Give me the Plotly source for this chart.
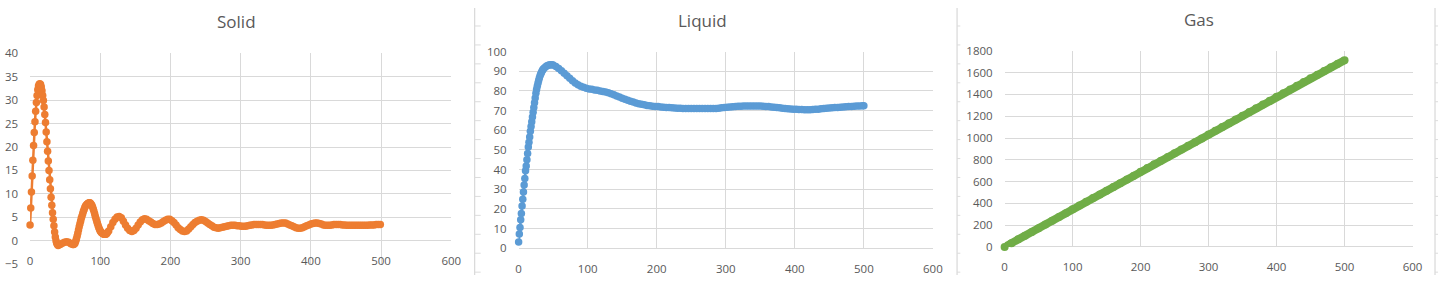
import plotly.graph_objects as go

W, H = 1448, 282

# ---------------- data ----------------
solid_x = [0, 1, 2, 3, 4, 5, 6, 7, 8, 9, 10, 11, 12, 13, 14, 15, 16, 17, 18, 19, 20,
           21, 22, 23, 24, 25, 26, 27, 28, 29, 30, 31, 32, 33, 34, 35, 36, 37, 38, 39,
           40, 43, 46, 49, 52, 55, 58,
           61, 62, 63, 64, 65, 66, 67, 68, 69, 70, 71, 72, 73, 74, 75, 76, 77, 78, 79, 80,
           81, 82, 83, 84, 85, 86, 87, 88, 89, 90, 91, 92, 93, 94, 95, 96, 97, 98, 99, 100,
           101, 102, 103, 104, 105, 106, 107, 108, 109, 110,
           112, 115, 118, 121, 124, 127, 130, 133, 136, 139, 142, 145,
           148, 151, 154, 157, 160, 163, 166, 169, 172, 175, 178, 181, 184, 187, 190, 193,
           196, 199, 202, 205, 208, 211, 214, 217, 220, 223, 226, 229, 232, 235, 238, 241,
           244, 247, 250, 253, 256, 259, 262, 265, 268, 271, 274, 277, 280, 283, 286, 289,
           292, 295, 298, 301, 304, 307, 310, 313, 316, 319, 322, 325, 328, 331, 334, 337,
           340, 343, 346, 349, 352, 355, 358, 361, 364, 367, 370, 373, 376, 379, 382, 385,
           388, 391, 394, 397, 400, 403, 406, 409, 412, 415, 418, 421, 424, 427, 430, 433,
           436, 439, 442, 445, 448, 451, 454, 457, 460, 463, 466, 469, 472, 475, 478, 481,
           484, 487, 490, 493, 496, 499, 500]
solid_y = [3.4, 7.0, 10.4, 13.8, 17.2, 20.3, 23.1, 25.4, 27.6, 29.5, 31.0, 32.2, 33.0, 33.4,
           33.5, 33.3, 32.8, 32.0, 31.0, 29.9, 28.5, 26.9, 25.2, 23.2, 21.1, 19.1, 17.0, 15.0,
           13.0, 11.1, 9.3, 7.6, 6.0, 4.6, 3.2, 1.9, 0.8, 0.0, -0.5, -0.8,
           -1.0, -0.8, -0.5, -0.3, -0.2, -0.3, -0.6,
           -0.8, -0.8, -0.7, -0.5, -0.1, 0.4, 1.0, 1.6, 2.3, 3.0, 3.6, 4.2, 4.8, 5.3, 5.8, 6.3,
           6.7, 7.1, 7.4, 7.6, 7.8, 7.9, 8.0, 8.1, 8.1, 8.0, 7.8, 7.6, 7.2, 6.8, 6.3, 5.8, 5.2,
           4.7, 4.2, 3.7, 3.2, 2.8, 2.4, 2.1, 1.9, 1.7, 1.6, 1.5, 1.4, 1.4, 1.4, 1.4, 1.5, 1.7,
           2.1, 3.0, 3.9, 4.6, 5.1, 5.2, 4.9, 4.2, 3.4, 2.7, 2.2, 2.0,
           2.2, 2.7, 3.4, 4.0, 4.5, 4.7, 4.6, 4.3, 4.0, 3.7, 3.5, 3.5, 3.6,
           3.8, 4.1, 4.4, 4.6, 4.6, 4.3, 3.9, 3.4, 2.8, 2.4, 2.1, 2.0, 2.1, 2.5, 3.0, 3.5, 3.9,
           4.2, 4.4, 4.5, 4.4, 4.1, 3.8, 3.5, 3.2, 2.9, 2.8, 2.7, 2.8, 2.9, 3.0, 3.1, 3.2, 3.3,
           3.3, 3.3, 3.2, 3.2, 3.1, 3.1, 3.1, 3.2, 3.3, 3.4, 3.5, 3.5, 3.5, 3.5, 3.5, 3.4, 3.3,
           3.3, 3.3, 3.4, 3.5, 3.6, 3.7, 3.8, 3.8, 3.8, 3.6, 3.4, 3.2, 3.0, 2.8, 2.7, 2.7, 2.8,
           3.0, 3.2, 3.4, 3.6, 3.7, 3.8, 3.8, 3.7, 3.6, 3.4, 3.3, 3.3, 3.3, 3.4, 3.5, 3.5, 3.5,
           3.5, 3.4, 3.4, 3.3, 3.3, 3.3, 3.3, 3.3, 3.3, 3.3, 3.3, 3.3, 3.3, 3.3, 3.4, 3.4, 3.4,
           3.5, 3.5, 3.5]

liquid_x = [0, 1, 2, 3, 4, 5, 6, 7, 8, 9, 10, 11, 12, 13, 14, 15, 16, 17, 18, 19, 20, 21, 22,
            23, 24, 25, 26, 27, 28, 29, 30, 31, 32, 33, 34, 35, 36, 38, 40, 42, 44, 46, 48,
            50, 54, 58, 62, 66, 70, 74, 78, 82, 86, 90, 94, 98, 102, 106, 110, 114, 118, 122,
            126, 130, 134, 138, 142, 146, 150, 154, 158, 162, 166, 170, 174, 178, 182, 186,
            190, 194, 198, 202, 206, 210, 214, 218, 222, 226, 230, 234, 238, 242, 246, 250,
            254, 258, 262, 266, 270, 274, 278, 282, 286, 290, 294, 298, 302, 306, 310, 314,
            318, 322, 326, 330, 334, 338, 342, 346, 350, 354, 358, 362, 366, 370, 374, 378,
            382, 386, 390, 394, 398, 402, 406, 410, 414, 418, 422, 426, 430, 434, 438, 442,
            446, 450, 454, 458, 462, 466, 470, 474, 478, 482, 486, 490, 494, 498, 500]
liquid_y = [3.2, 7.2, 10.5, 14.5, 17.7, 21.4, 24.9, 28.6, 32.2, 35.4, 39.4, 41.8, 45.0, 48.2,
            51.4, 53.9, 56.6, 59.5, 61.9, 64.3, 66.7, 69.1, 71.5, 74.0, 76.4, 78.8, 80.7, 82.4,
            83.9, 85.3, 86.6, 87.7, 88.6, 89.4, 90.1, 90.7, 91.2, 91.9, 92.5, 92.9, 93.2, 93.3,
            93.3, 93.1, 92.4, 91.4, 90.3, 89.0, 87.7, 86.4, 85.1, 84.0, 83.1, 82.4, 81.8, 81.4,
            81.0, 80.8, 80.5, 80.3, 80.0, 79.7, 79.4, 79.0, 78.5, 78.0, 77.4, 76.9, 76.3, 75.7,
            75.2, 74.7, 74.3, 73.9, 73.5, 73.2, 72.9, 72.6, 72.4, 72.2, 72.1, 72.0, 71.8, 71.7,
            71.6, 71.5, 71.4, 71.3, 71.2, 71.2, 71.1, 71.1, 71.0, 71.0, 71.0, 71.0, 71.0, 71.0,
            71.0, 71.0, 71.0, 71.0, 71.1, 71.2, 71.4, 71.5, 71.7, 71.8, 71.9, 72.1, 72.2, 72.2,
            72.3, 72.3, 72.3, 72.3, 72.3, 72.3, 72.3, 72.2, 72.1, 72.0, 71.8, 71.7, 71.5, 71.4,
            71.2, 71.0, 70.9, 70.8, 70.7, 70.6, 70.5, 70.5, 70.4, 70.4, 70.4, 70.5, 70.6, 70.7,
            70.9, 71.0, 71.2, 71.3, 71.4, 71.5, 71.6, 71.7, 71.8, 71.9, 72.0, 72.1, 72.2, 72.3,
            72.3, 72.4, 72.4]

gas_x = [0, 10, 20, 30, 40, 50, 60, 70, 80, 90, 100, 110, 120, 130, 140, 150, 160, 170, 180,
         190, 200, 210, 220, 230, 240, 250, 260, 270, 280, 290, 300, 310, 320, 330, 340, 350,
         360, 370, 380, 390, 400, 410, 420, 430, 440, 450, 460, 470, 480, 490, 500]
gas_y = [0, 34, 69, 103, 137, 172, 206, 240, 274, 309, 345, 379, 414, 448, 482, 516, 551, 585,
         619, 654, 690, 724, 758, 792, 826, 860, 894, 928, 962, 996, 1032, 1066, 1101, 1135,
         1170, 1204, 1239, 1273, 1308, 1342, 1378, 1412, 1446, 1480, 1514, 1548, 1582, 1616,
         1650, 1683, 1715]

titles = ["Solid", "Liquid", "Gas"]
x_ticks = [0, 100, 200, 300, 400, 500, 600]

# ---------------- layout helpers (pixel -> paper) ----------------
def fx(p):
    return p / W

def fy(p):
    return 1 - p / H

GRID = "#d9d9d9"
TXT = "#595959"
FONT = "Open Sans"

fig = go.Figure()
fig.add_trace(go.Scatter(x=solid_x, y=solid_y, mode="lines+markers", xaxis="x", yaxis="y",
                         line=dict(color="#ED7D31", width=2.5),
                         marker=dict(color="#ED7D31", size=7.5), cliponaxis=False,
                         showlegend=False))
fig.add_trace(go.Scatter(x=liquid_x, y=liquid_y, mode="lines+markers", xaxis="x2", yaxis="y2",
                         line=dict(color="#5B9BD5", width=2.5),
                         marker=dict(color="#5B9BD5", size=7.5), cliponaxis=False,
                         showlegend=False))
fig.add_trace(go.Scatter(x=gas_x, y=gas_y, mode="lines+markers", xaxis="x3", yaxis="y3",
                         line=dict(color="#70AD47", width=8),
                         marker=dict(color="#70AD47", size=8), cliponaxis=False,
                         showlegend=False))

def xax(domain, **kw):
    d = dict(domain=domain, range=[0, 600], tickvals=x_ticks, showgrid=True, gridcolor=GRID,
             gridwidth=1, zeroline=False, showline=False, ticks="", ticklabelstandoff=12,
             tickfont=dict(family=FONT, size=11.5, color=TXT), fixedrange=True)
    d.update(kw)
    return d

def yax(domain, rng, dtick, **kw):
    d = dict(domain=domain, range=rng, dtick=dtick, showgrid=True, gridcolor=GRID,
             gridwidth=1, zeroline=True, zerolinecolor=GRID, zerolinewidth=1,
             showline=False, ticks="", ticklabelstandoff=11,
             tickfont=dict(family=FONT, size=11.5, color=TXT), fixedrange=True)
    d.update(kw)
    return d

layout = dict(
    width=W, height=H, margin=dict(l=0, r=0, t=0, b=0),
    paper_bgcolor="white", plot_bgcolor="white", showlegend=False,
    xaxis=xax([fx(27.3), fx(452.3)], anchor="free", position=fy(245.7)),
    yaxis=yax([fy(270.7), fy(47.7)], [-5, 40], 5, anchor="x"),
    xaxis2=xax([fx(520.3), fx(938.3)], anchor="y2"),
    yaxis2=yax([fy(253.7), fy(46)], [0, 100], 10, anchor="x2"),
    xaxis3=xax([fx(1010.7), fx(1422.3)], anchor="y3"),
    yaxis3=yax([fy(252.3), fy(45.3)], [0, 1800], 200, anchor="x3"),
)
fig.update_layout(**layout)

# chart titles
for t, cx, cy in zip(titles, [235.7, 705.8, 1206.7], [14, 13, 12.5]):
    fig.add_annotation(text=t, x=fx(cx), y=fy(cy), xref="paper", yref="paper",
                       xanchor="center", yanchor="middle", showarrow=False,
                       font=dict(family=FONT, size=17, color=TXT))

# spreadsheet cell borders visible between the charts
shapes = []
for vx, stub in [(476, 482), (962.7, 966), (1445, 1448)]:
    shapes.append(dict(type="line", xref="paper", yref="paper", x0=fx(vx), x1=fx(vx),
                       y0=0, y1=1, line=dict(color="#d0d0d0", width=1)))
    for k in range(14):
        yy = 19 + 20 * k
        shapes.append(dict(type="line", xref="paper", yref="paper", x0=fx(vx), x1=fx(stub),
                           y0=fy(yy), y1=fy(yy), line=dict(color="#dcdcdc", width=1)))
fig.update_layout(shapes=shapes)

fig.write_html("out.html")
